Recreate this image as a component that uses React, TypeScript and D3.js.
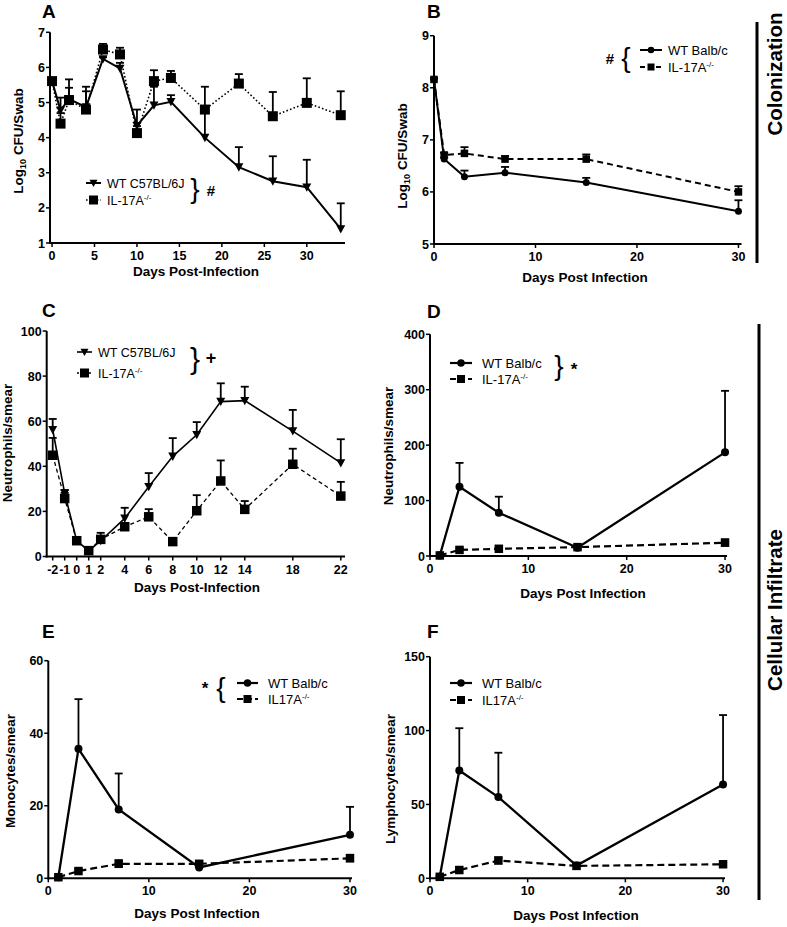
import React from 'react';
import * as d3 from 'd3';

const FONT = '"Liberation Sans", Arial, Helvetica, sans-serif';

// ---------- Panel A ----------
const daysA = [0, 1, 2, 4, 6, 8, 10, 12, 14, 18, 22, 26, 30, 34];
const wtA = [5.61, 4.78, 5.1, 4.87, 6.24, 5.97, 4.34, 4.92, 5.02, 4.0, 3.16, 2.76, 2.59, 1.4];
const wtASem = [0.05, 0.36, 0.32, 0.45, 0.05, 0.16, 0.46, 0.53, 0.19, 0.8, 0.57, 0.71, 0.78, 0.73];
const ilA = [5.61, 4.4, 5.07, 4.8, 6.51, 6.37, 4.13, 5.61, 5.7, 4.8, 5.54, 4.61, 4.99, 4.64];
const ilASem = [0.05, 0.3, 0.59, 0.65, 0.16, 0.19, 0.2, 0.31, 0.2, 0.65, 0.27, 0.69, 0.7, 0.68];
const xTicksA = [0, 5, 10, 15, 20, 25, 30];
const yTicksA = [1, 2, 3, 4, 5, 6, 7];

// ---------- Panel B ----------
const daysB = [0, 1, 3, 7, 15, 30];
const wtB = [8.16, 6.63, 6.29, 6.37, 6.18, 5.63];
const wtBSem = [0.02, 0.03, 0.12, 0.11, 0.09, 0.21];
const ilB = [8.16, 6.71, 6.74, 6.63, 6.63, 6.0];
const ilBSem = [0.02, 0.04, 0.12, 0.06, 0.09, 0.11];
const xTicksB = [0, 10, 20, 30];
const yTicksB = [5, 6, 7, 8, 9];

// ---------- Panel C ----------
const daysC = [-2, -1, 0, 1, 2, 4, 6, 8, 10, 12, 14, 18, 22];
const wtC = [56.2, 28, 7, 2.5, 7, 16.9, 30.9, 44.4, 54, 68.7, 69.1, 55.6, 41.5];
const wtCSem = [4.8, 1.5, 1, 1, 3.5, 4.7, 6.1, 8.1, 5.6, 8.1, 6.2, 9.4, 10.5];
const ilC = [44.9, 25.7, 7, 2.6, 7.6, 13.2, 17.6, 6.6, 20.3, 33.5, 20.9, 40.9, 26.8];
const ilCSem = [7.7, 2.5, 1, 1, 1, 1, 3.4, 0.5, 6.9, 9.1, 3.7, 6.9, 6.3];
const xTicksC = [-2, -1, 0, 1, 2, 4, 6, 8, 10, 12, 14, 18, 22];
const yTicksC = [0, 20, 40, 60, 80, 100];

// ---------- Panels D, E, F ----------
const daysDEF = [1, 3, 7, 15, 30];
const wtD = [1, 125, 78, 15, 187];
const wtDSem = [0, 43, 29, 3, 111];
const ilD = [1, 11, 13, 16, 24];
const ilDSem = [0, 3, 3, 3, 6];
const yTicksD = [0, 100, 200, 300, 400];

const wtE = [0.3, 35.7, 19, 3, 12];
const wtESem = [0, 13.7, 9.9, 0.5, 7.7];
const ilE = [0.3, 2, 4, 4, 5.5];
const ilESem = [0.2, 0.5, 1, 0.8, 1];
const yTicksE = [0, 20, 40, 60];

const wtF = [1, 73, 55, 8.6, 63.5];
const wtFSem = [0, 28.6, 30, 1, 47];
const ilF = [1, 5.6, 12, 8.4, 9.5];
const ilFSem = [0.5, 1, 2.2, 0.8, 1];
const yTicksF = [0, 50, 100, 150];
const xTicksDEF = [0, 10, 20, 30];

type MType = 'tri' | 'square' | 'circle';

function Mark({ type, x, y, s }: { type: MType; x: number; y: number; s: number }) {
  if (type === 'square') return <rect x={x - s / 2} y={y - s / 2} width={s} height={s} fill="#000" />;
  if (type === 'circle') return <circle cx={x} cy={y} r={s / 2} fill="#000" />;
  const p = d3.path();
  p.moveTo(x - s / 2, y - s * 0.42);
  p.lineTo(x + s / 2, y - s * 0.42);
  p.lineTo(x, y + s * 0.5);
  p.closePath();
  return <path d={p.toString()} fill="#000" />;
}

type Series = {
  xs: number[];
  ys: number[];
  sem: number[];
  marker: MType;
  ms: number;
  dash?: string;
  lw: number;
  cap: number;
};

type PanelProps = {
  xDomain: [number, number];
  xRange: [number, number];
  yDomain: [number, number];
  yRange: [number, number];
  xTicks: number[];
  yTicks: number[];
  series: Series[];
  xTitle: string;
  xTitlePos: [number, number];
  yTitle: React.ReactNode;
  yTitlePos: [number, number];
  letter: string;
  letterPos: [number, number];
  tickFont?: number;
};

function Panel(p: PanelProps) {
  const x = d3.scaleLinear().domain(p.xDomain).range(p.xRange);
  const y = d3.scaleLinear().domain(p.yDomain).range(p.yRange);
  const axX = p.xRange[0];
  const axY = p.yRange[0];
  const tf = p.tickFont ?? 12.5;
  return (
    <g>
      <text x={p.letterPos[0]} y={p.letterPos[1]} fontSize={19} fontWeight="bold" fontFamily={FONT}>
        {p.letter}
      </text>
      <line x1={axX} x2={axX} y1={p.yRange[1]} y2={axY + 1} stroke="#000" strokeWidth={2} />
      <line x1={axX - 1} x2={p.xRange[1]} y1={axY} y2={axY} stroke="#000" strokeWidth={2} />
      {p.yTicks.map((t) => (
        <g key={'y' + t}>
          <line x1={axX - 4} x2={axX} y1={y(t)} y2={y(t)} stroke="#000" strokeWidth={1.5} />
          <text x={axX - 5} y={y(t) + 4.5} fontSize={tf} fontWeight="bold" textAnchor="end" fontFamily={FONT}>
            {t}
          </text>
        </g>
      ))}
      {p.xTicks.map((t) => (
        <g key={'x' + t}>
          <line x1={x(t)} x2={x(t)} y1={axY} y2={axY + 4} stroke="#000" strokeWidth={1.5} />
          <text x={x(t)} y={axY + 17} fontSize={tf} fontWeight="bold" textAnchor="middle" fontFamily={FONT}>
            {t}
          </text>
        </g>
      ))}
      <text
        x={p.xTitlePos[0]}
        y={p.xTitlePos[1]}
        fontSize={13.5}
        fontWeight="bold"
        textAnchor="middle"
        fontFamily={FONT}
      >
        {p.xTitle}
      </text>
      <text
        transform={`translate(${p.yTitlePos[0]},${p.yTitlePos[1]}) rotate(-90)`}
        fontSize={13.5}
        fontWeight="bold"
        textAnchor="middle"
        fontFamily={FONT}
      >
        {p.yTitle}
      </text>
      {p.series.map((s, si) => {
        const line = d3
          .line<number>()
          .x((_, i) => x(s.xs[i]))
          .y((v) => y(v));
        return (
          <g key={si}>
            {s.ys.map((v, i) =>
              s.sem[i] > 0 ? (
                <g key={'e' + i}>
                  <line
                    x1={x(s.xs[i])}
                    x2={x(s.xs[i])}
                    y1={y(v)}
                    y2={y(v + s.sem[i])}
                    stroke="#000"
                    strokeWidth={1.8}
                  />
                  <line
                    x1={x(s.xs[i]) - s.cap / 2}
                    x2={x(s.xs[i]) + s.cap / 2}
                    y1={y(v + s.sem[i])}
                    y2={y(v + s.sem[i])}
                    stroke="#000"
                    strokeWidth={1.8}
                  />
                </g>
              ) : null
            )}
            <path d={line(s.ys) || ''} fill="none" stroke="#000" strokeWidth={s.lw} strokeDasharray={s.dash} />
            {s.ys.map((v, i) => (
              <Mark key={'m' + i} type={s.marker} x={x(s.xs[i])} y={y(v)} s={s.ms} />
            ))}
          </g>
        );
      })}
    </g>
  );
}

type LegItem = { label: React.ReactNode; marker: MType; ms: number; dash?: string; lw: number; y: number };

function Legend({ x1, x2, tx, items, fs }: { x1: number; x2: number; tx: number; items: LegItem[]; fs: number }) {
  return (
    <g>
      {items.map((it, i) => (
        <g key={i}>
          <line x1={x1} x2={x2} y1={it.y} y2={it.y} stroke="#000" strokeWidth={it.lw} strokeDasharray={it.dash} />
          <Mark type={it.marker} x={(x1 + x2) / 2} y={it.y} s={it.ms} />
          <text x={tx} y={it.y + fs * 0.36} fontSize={fs} fontFamily={FONT}>
            {it.label}
          </text>
        </g>
      ))}
    </g>
  );
}

const KO = (base: string) => (
  <>
    {base}
    <tspan dy={-5} fontSize={8}>
      -/-
    </tspan>
  </>
);

const Brace = ({ ch, x, yc, fs }: { ch: string; x: number; yc: number; fs: number }) => (
  <text x={x} y={yc + fs * 0.27} fontSize={fs} fontFamily={FONT} textAnchor="middle">
    {ch}
  </text>
);

const Log10 = (
  <>
    Log
    <tspan dy={3} fontSize={9}>
      10
    </tspan>
    <tspan dy={-3}> CFU/Swab</tspan>
  </>
);

export default function App() {
  const W = 787;
  const H = 927;
  return (
    <svg
      width={W}
      height={H}
      viewBox={`0 0 ${W} ${H}`}
      style={{ position: 'absolute', left: 0, top: 0, background: '#fff' }}
    >
      <rect width={W} height={H} fill="#fff" />
      {/* Panel A */}
      <Panel
        xDomain={[-0.24, 34.5]}
        xRange={[50, 345]}
        yDomain={[1, 7]}
        yRange={[243, 32.3]}
        xTicks={xTicksA}
        yTicks={yTicksA}
        xTitle="Days Post-Infection"
        xTitlePos={[196, 276]}
        yTitle={Log10}
        yTitlePos={[23, 141]}
        letter="A"
        letterPos={[42, 18]}
        series={[
          { xs: daysA, ys: wtA, sem: wtASem, marker: 'tri', ms: 9, lw: 2, cap: 8 },
          { xs: daysA, ys: ilA, sem: ilASem, marker: 'square', ms: 10, lw: 1.6, dash: '1.6,2.2', cap: 8 },
        ]}
      />
      <Legend
        x1={86}
        x2={101}
        tx={107}
        fs={12.5}
        items={[
          { label: 'WT C57BL/6J', marker: 'tri', ms: 8, lw: 2, y: 183 },
          { label: KO('IL-17A'), marker: 'square', ms: 9, lw: 1.6, dash: '1.6,2', y: 200 },
        ]}
      />
      <Brace ch="}" x={195} yc={190} fs={28} />
      <text x={211} y={196} fontSize={15} fontWeight="bold" fontFamily={FONT} textAnchor="middle">
        #
      </text>

      {/* Panel B */}
      <Panel
        xDomain={[0, 30.3]}
        xRange={[434, 741.5]}
        yDomain={[5, 9]}
        yRange={[244, 35.7]}
        xTicks={xTicksB}
        yTicks={yTicksB}
        xTitle="Days Post Infection"
        xTitlePos={[585, 282]}
        yTitle={Log10}
        yTitlePos={[407, 156]}
        letter="B"
        letterPos={[427, 18]}
        series={[
          { xs: daysB, ys: wtB, sem: wtBSem, marker: 'circle', ms: 7, lw: 2, cap: 8 },
          { xs: daysB, ys: ilB, sem: ilBSem, marker: 'square', ms: 7.5, lw: 2, dash: '6,4', cap: 8 },
        ]}
      />
      <Legend
        x1={640}
        x2={662}
        tx={668}
        fs={13}
        items={[
          { label: 'WT Balb/c', marker: 'circle', ms: 6.5, lw: 2, y: 50 },
          { label: KO('IL-17A'), marker: 'square', ms: 7, lw: 2, dash: '5,3', y: 67 },
        ]}
      />
      <text x={610} y={64} fontSize={15} fontWeight="bold" fontFamily={FONT} textAnchor="middle">
        #
      </text>
      <Brace ch="{" x={626} yc={59} fs={28} />

      {/* Panel C */}
      <Panel
        xDomain={[-2.5, 22.35]}
        xRange={[46.7, 345]}
        yDomain={[0, 100]}
        yRange={[556.5, 331]}
        xTicks={xTicksC}
        yTicks={yTicksC}
        xTitle="Days Post-Infection"
        xTitlePos={[197, 592]}
        yTitle="Neutrophils/smear"
        yTitlePos={[12, 443]}
        letter="C"
        letterPos={[42, 317]}
        series={[
          { xs: daysC, ys: wtC, sem: wtCSem, marker: 'tri', ms: 9, lw: 1.6, cap: 8 },
          { xs: daysC, ys: ilC, sem: ilCSem, marker: 'square', ms: 9.5, lw: 1.3, dash: '4,3', cap: 8 },
        ]}
      />
      <Legend
        x1={77}
        x2={92}
        tx={98}
        fs={12.5}
        items={[
          { label: 'WT C57BL/6J', marker: 'tri', ms: 8, lw: 1.6, y: 352 },
          { label: KO('IL-17A'), marker: 'square', ms: 9, lw: 1.3, dash: '2,2', y: 373 },
        ]}
      />
      <Brace ch="}" x={195} yc={361} fs={30} />
      <text x={211} y={364} fontSize={18} fontWeight="bold" fontFamily={FONT} textAnchor="middle">
        +
      </text>

      {/* Panel D */}
      <Panel
        xDomain={[0, 30.2]}
        xRange={[430, 727]}
        yDomain={[0, 400]}
        yRange={[556, 334.3]}
        xTicks={xTicksDEF}
        yTicks={yTicksD}
        xTitle="Days Post Infection"
        xTitlePos={[583, 598]}
        yTitle="Neutrophils/smear"
        yTitlePos={[393, 446]}
        letter="D"
        letterPos={[427, 318]}
        series={[
          { xs: daysDEF, ys: ilD, sem: ilDSem, marker: 'square', ms: 8.5, lw: 2.2, dash: '7,4', cap: 8 },
          { xs: daysDEF, ys: wtD, sem: wtDSem, marker: 'circle', ms: 8, lw: 2.3, cap: 8 },
        ]}
      />
      <Legend
        x1={450}
        x2={472}
        tx={482}
        fs={13}
        items={[
          { label: 'WT Balb/c', marker: 'circle', ms: 7.5, lw: 2.2, y: 363 },
          { label: KO('IL-17A'), marker: 'square', ms: 8, lw: 2.2, dash: '6,3', y: 379 },
        ]}
      />
      <Brace ch="}" x={559} yc={367} fs={28} />
      <text x={574} y={375} fontSize={17} fontWeight="bold" fontFamily={FONT} textAnchor="middle">
        *
      </text>

      {/* Panel E */}
      <Panel
        xDomain={[0, 30.2]}
        xRange={[48.3, 352]}
        yDomain={[0, 60]}
        yRange={[878.3, 660.7]}
        xTicks={xTicksDEF}
        yTicks={yTicksE}
        xTitle="Days Post Infection"
        xTitlePos={[197, 918]}
        yTitle="Monocytes/smear"
        yTitlePos={[15, 771]}
        letter="E"
        letterPos={[42, 638]}
        series={[
          { xs: daysDEF, ys: wtE, sem: wtESem, marker: 'circle', ms: 8, lw: 2.3, cap: 8 },
          { xs: daysDEF, ys: ilE, sem: ilESem, marker: 'square', ms: 8.5, lw: 2.2, dash: '7,4', cap: 8 },
        ]}
      />
      <Legend
        x1={237}
        x2={258}
        tx={268}
        fs={13}
        items={[
          { label: 'WT Balb/c', marker: 'circle', ms: 7.5, lw: 2.2, y: 683 },
          { label: KO('IL17A'), marker: 'square', ms: 8, lw: 2.2, dash: '6,3', y: 699 },
        ]}
      />
      <text x={205} y={694} fontSize={17} fontWeight="bold" fontFamily={FONT} textAnchor="middle">
        *
      </text>
      <Brace ch="{" x={221} yc={689} fs={28} />

      {/* Panel F */}
      <Panel
        xDomain={[0, 30.2]}
        xRange={[430, 725]}
        yDomain={[0, 150]}
        yRange={[878.3, 656.7]}
        xTicks={xTicksDEF}
        yTicks={yTicksF}
        xTitle="Days Post Infection"
        xTitlePos={[576, 920]}
        yTitle="Lymphocytes/smear"
        yTitlePos={[395, 779]}
        letter="F"
        letterPos={[427, 638]}
        series={[
          { xs: daysDEF, ys: wtF, sem: wtFSem, marker: 'circle', ms: 8, lw: 2.3, cap: 8 },
          { xs: daysDEF, ys: ilF, sem: ilFSem, marker: 'square', ms: 8.5, lw: 2.2, dash: '7,4', cap: 8 },
        ]}
      />
      <Legend
        x1={450}
        x2={472}
        tx={482}
        fs={13}
        items={[
          { label: 'WT Balb/c', marker: 'circle', ms: 7.5, lw: 2.2, y: 683 },
          { label: KO('IL17A'), marker: 'square', ms: 8, lw: 2.2, dash: '6,3', y: 700 },
        ]}
      />

      {/* Right side group labels */}
      <line x1={757} x2={757} y1={22} y2={263} stroke="#000" strokeWidth={3} />
      <text
        transform="translate(782,74) rotate(-90)"
        fontSize={20.5}
        fontWeight="bold"
        textAnchor="middle"
        fontFamily={FONT}
      >
        Colonization
      </text>
      <line x1={759} x2={759} y1={324} y2={900} stroke="#000" strokeWidth={3} />
      <text
        transform="translate(782,610) rotate(-90)"
        fontSize={20.5}
        fontWeight="bold"
        textAnchor="middle"
        fontFamily={FONT}
      >
        Cellular Infiltrate
      </text>
    </svg>
  );
}
